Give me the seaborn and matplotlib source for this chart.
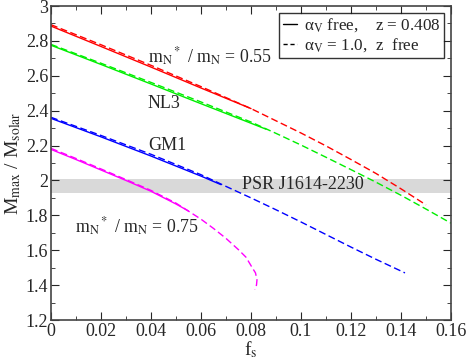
import pandas as pd
import seaborn as sns
import matplotlib.pyplot as plt
from matplotlib.lines import Line2D
from matplotlib.ticker import MultipleLocator

# solid: alpha_V free, z = 0.408 ; dashed: alpha_V = 1.0, z free
red_solid_x = [0, 0.02, 0.04, 0.06, 0.08]
red_solid_y = [2.885, 2.768, 2.650, 2.530, 2.412]
red_dash_x = [0, 0.02, 0.04, 0.06, 0.08, 0.09, 0.10, 0.11, 0.12, 0.13, 0.14, 0.15]
red_dash_y = [2.893, 2.778, 2.660, 2.538, 2.412, 2.342, 2.272, 2.198, 2.120, 2.040, 1.952, 1.860]

green_solid_x = [0, 0.02, 0.04, 0.06, 0.08, 0.086]
green_solid_y = [2.775, 2.665, 2.553, 2.440, 2.328, 2.294]
green_dash_x = [0, 0.02, 0.04, 0.06, 0.08, 0.09, 0.10, 0.11, 0.12, 0.13, 0.14, 0.15, 0.16]
green_dash_y = [2.780, 2.672, 2.562, 2.450, 2.335, 2.270, 2.203, 2.133, 2.062, 1.990, 1.915, 1.836, 1.755]

blue_solid_x = [0, 0.02, 0.04, 0.06, 0.068]
blue_solid_y = [2.356, 2.250, 2.140, 2.025, 1.976]
blue_dash_x = [0, 0.02, 0.04, 0.06, 0.07, 0.08, 0.09, 0.10, 0.11, 0.12, 0.13, 0.1416]
blue_dash_y = [2.362, 2.258, 2.150, 2.033, 1.966, 1.900, 1.832, 1.762, 1.690, 1.618, 1.548, 1.470]

mag_solid_x = [0, 0.01, 0.02, 0.03, 0.04, 0.05, 0.055]
mag_solid_y = [2.178, 2.120, 2.060, 2.000, 1.938, 1.865, 1.825]
mag_dash_x = [0, 0.01, 0.02, 0.03, 0.04, 0.05, 0.06, 0.065, 0.07, 0.075, 0.078,
              0.0805, 0.0818, 0.0824, 0.0822, 0.0815]
mag_dash_y = [2.184, 2.126, 2.066, 2.005, 1.943, 1.870, 1.778, 1.725, 1.668, 1.603, 1.560,
              1.500, 1.470, 1.430, 1.400, 1.375]

psr_low, psr_high = 1.93, 2.01

x_ticks = [0, 0.02, 0.04, 0.06, 0.08, 0.1, 0.12, 0.14, 0.16]
x_labels = ['0', '0.02', '0.04', '0.06', '0.08', '0.1', '0.12', '0.14', '0.16']
y_ticks = [1.2, 1.4, 1.6, 1.8, 2, 2.2, 2.4, 2.6, 2.8, 3]
y_labels = ['1.2', '1.4', '1.6', '1.8', '2', '2.2', '2.4', '2.6', '2.8', '3']

curves = [
    (red_solid_x, red_solid_y, '#ff0000', '-'),
    (red_dash_x, red_dash_y, '#ff0000', '--'),
    (green_solid_x, green_solid_y, '#00ee00', '-'),
    (green_dash_x, green_dash_y, '#00ee00', '--'),
    (blue_solid_x, blue_solid_y, '#0000ff', '-'),
    (blue_dash_x, blue_dash_y, '#0000ff', '--'),
    (mag_solid_x, mag_solid_y, '#ff00ff', '-'),
    (mag_dash_x, mag_dash_y, '#ff00ff', '--'),
]

sns.set_style('ticks')
plt.rcParams['font.family'] = ['Liberation Serif', 'DejaVu Serif']
plt.rcParams['mathtext.fontset'] = 'stix'
plt.rcParams['font.size'] = 11

fig = plt.figure(figsize=(4.69, 3.62), dpi=100)
ax = fig.add_axes([0.1087, 0.116, 0.8529, 0.8674])

ax.axhspan(psr_low, psr_high, color='#d9d9d9', lw=0, zorder=0)

for xs, ys, col, ls in curves:
    df = pd.DataFrame({'fs': xs, 'M': ys})
    sns.lineplot(data=df, x='fs', y='M', color=col, sort=False,
                 estimator=None, lw=1, ax=ax)
    if ls == '--':
        ax.lines[-1].set_dashes((5, 2.5))

ax.set_xlim(0, 0.16)
ax.set_ylim(1.2, 3)
ax.set_xticks(x_ticks)
ax.set_xticklabels(x_labels)
ax.set_yticks(y_ticks)
ax.set_yticklabels(y_labels)
ax.xaxis.set_minor_locator(MultipleLocator(0.01))
ax.yaxis.set_minor_locator(MultipleLocator(0.1))
ax.tick_params(which='both', direction='in', top=True, right=True, labelsize=13, pad=2)
ax.tick_params(which='major', length=6)
ax.tick_params(which='minor', length=3)
for s in ax.spines.values():
    s.set_linewidth(1.2)
    s.set_color('#444444')

ax.set_xlabel(r'f$_\mathrm{s}$', fontsize=14, labelpad=0)
ax.set_ylabel(r'M$_\mathrm{max}$ / M$_\mathrm{solar}$', fontsize=14, labelpad=2)

ax.text(0.0388, 2.71, r'm$_\mathrm{N}$$^*$ / m$_\mathrm{N}$ = 0.55', fontsize=12.8, va='center')
ax.text(0.0388, 2.44, 'NL3', fontsize=13, va='center')
ax.text(0.0388, 2.20, 'GM1', fontsize=13, va='center')
ax.text(0.0763, 1.974, 'PSR J1614-2230', fontsize=13, va='center')
ax.text(0.0096, 1.735, r'm$_\mathrm{N}$$^*$ / m$_\mathrm{N}$ = 0.75', fontsize=12.8, va='center')

handles = [Line2D([], [], color='black', lw=1),
           Line2D([], [], color='black', lw=1, dashes=(3, 2))]
labels = [r'α$_\mathrm{V}$ free,    z = 0.408', r'α$_\mathrm{V}$ = 1.0,  z  free']
leg = ax.legend(handles, labels, loc='upper right', fontsize=12.3, frameon=True,
                fancybox=False, edgecolor='black', handlelength=0.85, handletextpad=0.4,
                borderpad=0.2, labelspacing=0.15, borderaxespad=0.4)
leg.get_frame().set_linewidth(1)

fig.savefig('out.png', dpi=100)
